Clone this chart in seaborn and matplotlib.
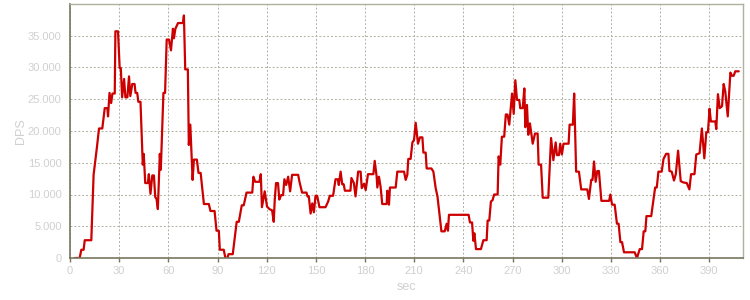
import matplotlib
matplotlib.use("Agg")
import matplotlib.pyplot as plt
import matplotlib.ticker as mticker
import seaborn as sns
import pandas as pd

seconds = [
    3, 5.9, 6.9, 8.3, 9, 13, 14.4, 16.5, 17.7, 19.7, 21.2, 22.8, 23.2, 24.1, 25.1, 25.9, 27.3, 27.7, 29.3, 30.3,
    31, 31.8, 33, 33.8, 35, 36, 36.8, 38, 39.4, 40, 41, 41.7, 43, 44.4, 45, 45.9, 47.5, 48.1, 49.1, 50.2,
    51.2, 52, 52.8, 53.6, 54.8, 55.4, 57, 58, 59,
    60.4, 61.6, 62.8, 63.4, 64.3, 65.9, 68.9, 69.5, 70.3, 71.9, 72.5, 73.4, 74.8, 75.6, 77.4, 78.4, 79.7,
    81.7, 84.7, 85.7, 88.2, 89.4, 90.8, 91.4, 93.8, 94.8, 96, 96.7, 99.3, 101.7, 103, 104.8, 106, 107.7,
    111.2, 111.9, 113, 115.6, 116.4, 117.1,
    118.8, 120.2, 121.7, 123.3, 124.3, 124.9, 125.7, 126.9, 127.7, 128.8, 130, 130.8, 131.9, 133.1, 134.3,
    135.5, 139.2, 140, 141.6, 144.3, 144.9, 145.7, 146.8, 147.8, 148.8, 149.8, 150.8, 152.2, 155.9, 157.5,
    158.5, 160.5, 162, 163.4, 164, 165.1, 166.1, 167, 167.7, 171.1, 171.7, 173.2, 174.2, 175.8, 177.3,
    178, 179.4, 180.4, 181.8, 185.1, 185.9, 187.1, 187.5, 188.5, 189.5, 190.5, 193.2, 193.6, 194.6, 195.2,
    198.7, 199.7, 203.8, 204.8, 205.8, 206.4, 207.8, 208.9, 209.9, 210.9, 212.3, 213.5, 215, 215.6, 217,
    217.6, 220.5, 221.7, 223.1, 224.2, 226.6, 228.6, 229.8, 230.6, 231.2,
    243.2, 244, 245.3, 246.1, 246.7, 247.7, 250.7, 252.2, 254.2, 254.8, 255.8, 256.8, 257.8, 258.8, 260.9,
    261.5, 262.5, 263.5, 264.9, 265.9, 266.9, 268, 269.7, 270.7, 271.7, 272.7, 274.1, 274.7, 276.2, 277.2,
    277.8, 278.8, 279.6, 280.6, 282.3, 283.7, 285.3, 285.9, 287.4, 288.4, 291.8, 293.5, 294.9, 296.3,
    297.1, 298.3, 299.1, 300.1, 301.1, 304.2, 304.8, 306.8, 307.6, 308.8, 310.5, 311.9, 315.6, 316.6, 318,
    318.8, 319.7, 320.7, 321.7, 322.7, 324.2, 328.9, 329.7, 330.7, 332.3, 333.7, 334.7, 335.8, 336.8, 338,
    344.5, 345.9, 347.6, 349, 350, 351, 351.7, 354.6,
    357, 358, 359, 361, 362.1, 363.7, 365.1, 365.7, 367.1, 368.5, 369.6, 371, 372.6, 374.2, 376.3, 377.9,
    378.9, 381, 382.1, 384.1, 385.5, 387, 388.2, 389.2, 390.2, 391, 393.7, 394.3, 395.3, 396.4, 397.8,
    398.8, 399.8, 401.3, 402.9, 403.9, 404.9, 405.9, 408,
]

dps = [
    0, 0, 1300, 1300, 2800, 2800, 13100, 17600, 20400, 20400, 23600, 23600, 22300, 26000, 24400, 25900, 25900, 35700, 35700, 29900,
    29900, 25300, 28200, 25300, 25300, 28600, 25500, 27400, 27400, 26000, 26000, 24600, 24600, 14700, 16400, 11800, 11800, 13200, 10100, 13000,
    13000, 9600, 9300, 7700, 16400, 13900, 26000, 26000, 34400,
    34400, 32700, 36100, 34600, 36100, 37000, 37000, 38200, 29700, 29700, 17800, 21000, 12300, 15500, 15500, 13400, 13400,
    8500, 8500, 7400, 7400, 4300, 4300, 1300, 1300, 0, 0, 600, 600, 5700, 5700, 8300, 8300, 10300,
    10300, 12800, 12000, 12000, 13200, 8000,
    10500, 8100, 7700, 7500, 5700, 9100, 11800, 11800, 9200, 9900, 9900, 12400, 11500, 12800, 10500,
    13100, 13100, 12000, 10300, 10300, 9700, 9700, 7000, 8600, 7200, 9800, 9800, 8000, 8000, 8900,
    9800, 9800, 12400, 12400, 11500, 13600, 11600, 11600, 10600, 10600, 12600, 11800, 9700, 13600, 13600,
    11000, 11700, 10700, 13200, 13200, 15300, 12800, 11100, 12800, 11200, 8500, 8500, 10600, 8400, 11100,
    11100, 13600, 13600, 12300, 13100, 15600, 15600, 18200, 18600, 21300, 18000, 19000, 19000, 16600, 16600,
    14100, 14100, 13600, 11000, 9700, 4200, 4200, 5400, 4300, 6800,
    6800, 5600, 5600, 2700, 3900, 1400, 1400, 2800, 2800, 5900, 5900, 8900, 9100, 10000, 10000,
    16000, 14700, 19100, 19100, 22600, 22600, 21000, 25900, 22700, 28000, 24900, 24900, 23600, 23600, 26700,
    20600, 24100, 19400, 21200, 18000, 19600, 19600, 14700, 14700, 9500, 9500, 18900, 15400, 18200,
    16200, 16200, 18000, 16300, 18000, 18000, 21000, 21000, 25900, 13600, 13600, 10800, 10800, 9300, 12300,
    12300, 15200, 12000, 13700, 13700, 9000, 9000, 10000, 8400, 8400, 5400, 5400, 2500, 2500, 900,
    900, 0, 1400, 1400, 4200, 4200, 6600, 6600,
    11100, 11100, 13600, 13600, 15600, 16400, 16400, 13700, 13600, 12200, 13200, 16900, 12100, 11900, 11800, 10800,
    13200, 13200, 16300, 16500, 20400, 15700, 19800, 19800, 23500, 21500, 21500, 20300, 25800, 23600, 23900,
    27400, 26200, 22300, 29200, 28700, 28700, 29400, 29400,
]

x_ticks = [0, 30, 60, 90, 120, 150, 180, 210, 240, 270, 300, 330, 360, 390]
y_ticks = [0, 5000, 10000, 15000, 20000, 25000, 30000, 35000]
x_label = "sec"
y_label = "DPS"

sns.set_theme(style="white")
plt.rcParams["font.family"] = ["Liberation Sans", "DejaVu Sans"]

df = pd.DataFrame({"sec": seconds, "DPS": dps})

fig = plt.figure(figsize=(7.5, 3.0), dpi=100)
ax = fig.add_axes([70 / 750, 1 - 258 / 300, (743 - 70) / 750, (258 - 4) / 300])

sns.lineplot(data=df, x="sec", y="DPS", ax=ax, color="#cc0000", linewidth=1.6,
             estimator=None, sort=False)

ax.set_xlim(0, 410.6)
ax.set_ylim(0, 40000)
ax.set_xticks(x_ticks)
ax.set_yticks(y_ticks)
ax.yaxis.set_major_formatter(mticker.FuncFormatter(lambda v, p: f"{int(v):,}".replace(",", ".")))

ax.grid(True, color="#b0b0a0", linestyle=(0, (2, 2)), linewidth=0.7)
ax.set_axisbelow(True)

for s in ["left", "bottom"]:
    ax.spines[s].set_color("#77775f")
    ax.spines[s].set_linewidth(1.2)
for s in ["top", "right"]:
    ax.spines[s].set_color("#b0b0a0")
    ax.spines[s].set_linewidth(1.0)

ax.tick_params(axis="both", which="major", length=3, width=1, color="#77775f",
               labelcolor="#d0d0d0", labelsize=8, pad=3, direction="out",
               bottom=True, left=False)

ax.set_xlabel(x_label, color="#d0d0d0", fontsize=9, labelpad=3)
ax.set_ylabel(y_label, color="#d0d0d0", fontsize=9, labelpad=1)

fig.savefig("out.png", dpi=100)
